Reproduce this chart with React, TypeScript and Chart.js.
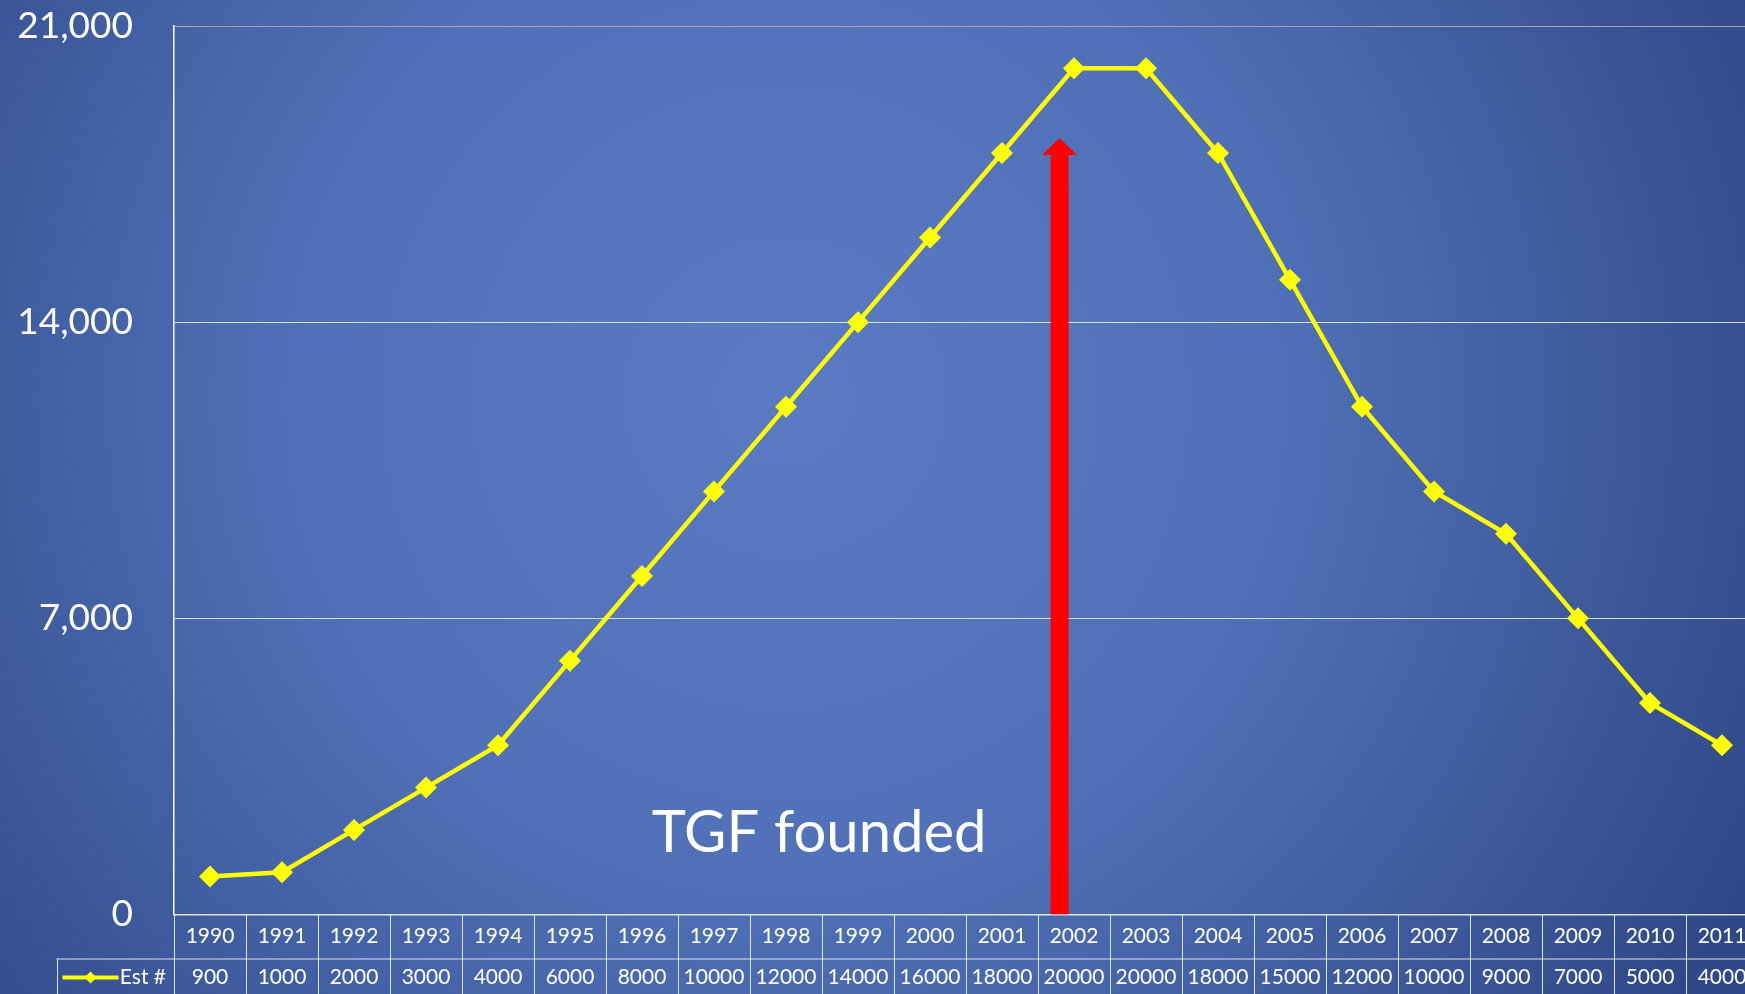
import React, { useEffect, useRef } from 'react';
import { Chart, registerables } from 'chart.js';

Chart.register(...registerables);

const years = ['1990', '1991', '1992', '1993', '1994', '1995', '1996', '1997', '1998', '1999', '2000', '2001', '2002', '2003', '2004', '2005', '2006', '2007', '2008', '2009', '2010', '2011'];
const estimates = [900, 1000, 2000, 3000, 4000, 6000, 8000, 10000, 12000, 14000, 16000, 18000, 20000, 20000, 18000, 15000, 12000, 10000, 9000, 7000, 5000, 4000];
const yTickValues = [0, 7000, 14000, 21000];
const seriesName = 'Est #';
const annotationText = 'TGF founded';
const arrowIndex = 11.8; // category position of the arrow (near 2002)
const arrowTopValue = 18350;
const textIndex = 8.46;
const textBaselineValue = 1480;

const FONT = 'Lato, "Open Sans", sans-serif';
const CANVAS_W = 1758;
const CANVAS_H = 994;
const PLOT_RIGHT = 1758; // the plot (and table) run past the right edge of the view

const backgroundPlugin = {
  id: 'bg',
  beforeDraw(chart: any) {
    const { ctx, height } = chart;
    const width = 1745;
    ctx.save();
    const g = ctx.createRadialGradient(width * 0.45, height * 0.4, 0, width * 0.45, height * 0.4, width * 0.62);
    g.addColorStop(0, '#5a7bc4');
    g.addColorStop(0.45, '#5071b8');
    g.addColorStop(1, '#2f4887');
    ctx.fillStyle = g;
    ctx.fillRect(0, 0, chart.width, height);
    ctx.restore();
  },
};

const arrowPlugin = {
  id: 'arrowNote',
  afterDatasetsDraw(chart: any) {
    const { ctx } = chart;
    const xs = chart.scales.x;
    const ys = chart.scales.y;
    const cx = xs.getPixelForValue(arrowIndex);
    const tip = ys.getPixelForValue(arrowTopValue);
    const base = ys.getPixelForValue(0);
    const shaftHalf = 9;
    const headHalf = 17.5;
    const headH = 17;
    ctx.save();
    ctx.fillStyle = '#ff0000';
    ctx.beginPath();
    ctx.moveTo(cx, tip);
    ctx.lineTo(cx + headHalf, tip + headH);
    ctx.lineTo(cx + shaftHalf, tip + headH);
    ctx.lineTo(cx + shaftHalf, base);
    ctx.lineTo(cx - shaftHalf, base);
    ctx.lineTo(cx - shaftHalf, tip + headH);
    ctx.lineTo(cx - headHalf, tip + headH);
    ctx.closePath();
    ctx.fill();

    ctx.fillStyle = '#ffffff';
    ctx.font = `58px ${FONT}`;
    ctx.textAlign = 'center';
    ctx.textBaseline = 'alphabetic';
    ctx.fillText(annotationText, xs.getPixelForValue(textIndex), ys.getPixelForValue(textBaselineValue));
    ctx.restore();
  },
};

const tablePlugin = {
  id: 'dataTable',
  afterDraw(chart: any) {
    const { ctx, chartArea, height } = chart;
    const xs = chart.scales.x;
    const n = years.length;
    const cellW = (chartArea.right - chartArea.left) / n;
    const top = chartArea.bottom;
    const row1H = 44;
    const mid = top + row1H;
    const row2Mid = mid + 19;
    const legendLeft = chartArea.left - 117.5;
    ctx.save();
    ctx.strokeStyle = 'rgba(235,240,250,0.9)';
    ctx.lineWidth = 1;
    ctx.beginPath();
    ctx.moveTo(chartArea.left, top + 0.5);
    ctx.lineTo(chartArea.right, top + 0.5);
    ctx.moveTo(legendLeft, mid + 0.5);
    ctx.lineTo(chartArea.right, mid + 0.5);
    for (let i = 0; i <= n; i++) {
      const x = Math.round(chartArea.left + i * cellW) + 0.5;
      ctx.moveTo(x, top);
      ctx.lineTo(x, height);
    }
    ctx.moveTo(Math.round(legendLeft) + 0.5, mid);
    ctx.lineTo(Math.round(legendLeft) + 0.5, height);
    ctx.stroke();

    ctx.fillStyle = '#ffffff';
    ctx.font = `21px ${FONT}`;
    ctx.textAlign = 'center';
    ctx.textBaseline = 'middle';
    for (let i = 0; i < n; i++) {
      const cx = xs.getPixelForValue(i);
      ctx.fillText(years[i], cx, top + 22);
      ctx.fillText(String(estimates[i]), cx, row2Mid);
    }

    const ly = row2Mid;
    ctx.strokeStyle = '#ffff00';
    ctx.lineWidth = 4;
    ctx.beginPath();
    ctx.moveTo(legendLeft + 6, ly);
    ctx.lineTo(legendLeft + 62, ly);
    ctx.stroke();
    ctx.fillStyle = '#ffff00';
    const dx = legendLeft + 34;
    ctx.beginPath();
    ctx.moveTo(dx - 6, ly);
    ctx.lineTo(dx, ly - 6);
    ctx.lineTo(dx + 6, ly);
    ctx.lineTo(dx, ly + 6);
    ctx.closePath();
    ctx.fill();
    ctx.fillStyle = '#ffffff';
    ctx.textAlign = 'right';
    ctx.fillText(seriesName, chartArea.left - 8, ly);
    ctx.restore();
  },
};

export default function App() {
  const canvasRef = useRef<HTMLCanvasElement | null>(null);

  useEffect(() => {
    const canvas = canvasRef.current;
    if (!canvas) return;
    const chart = new Chart(canvas, {
      type: 'line',
      data: {
        labels: years,
        datasets: [
          {
            label: seriesName,
            data: estimates,
            borderColor: '#ffff00',
            backgroundColor: '#ffff00',
            borderWidth: 4.5,
            tension: 0,
            pointStyle: 'rectRot',
            pointRadius: 11,
            pointBackgroundColor: '#ffff00',
            pointBorderColor: '#ffff00',
            pointBorderWidth: 0,
            clip: false as any,
          },
        ],
      },
      options: {
        animation: false,
        responsive: false,
        maintainAspectRatio: false,
        devicePixelRatio: 1,
        layout: { padding: { top: 26, bottom: 79.5, left: 0, right: 0 } },
        plugins: {
          legend: { display: false },
          tooltip: { enabled: false },
        },
        scales: {
          x: {
            type: 'category',
            display: false,
            offset: true,
            grid: { display: false },
          },
          y: {
            min: 0,
            max: 21000,
            afterFit(scale: any) {
              scale.width = 174;
              scale.paddingTop = 0;
              scale.paddingBottom = 0;
            },
            afterBuildTicks(scale: any) {
              scale.ticks = yTickValues.map((v) => ({ value: v }));
            },
            border: { display: true, color: '#ffffff', width: 1.5 },
            grid: {
              drawTicks: false,
              lineWidth: 1,
              color: (c: any) => (c.tick && c.tick.value === 21000 ? 'rgba(170,170,175,0.95)' : 'rgba(235,240,250,0.85)'),
            },
            ticks: {
              padding: 41,
              color: '#ffffff',
              font: { family: FONT, size: 37 },
              callback: (v: any) => Number(v).toLocaleString('en-US'),
            },
          },
        },
      },
      plugins: [backgroundPlugin, arrowPlugin, tablePlugin],
    });
    // the line's point overflow shrinks the plot on the right; widen the canvas so the plot ends at PLOT_RIGHT
    const delta = PLOT_RIGHT - chart.chartArea.right;
    if (Math.abs(delta) > 0.01) {
      chart.resize(CANVAS_W + delta, CANVAS_H);
      chart.update();
    }
    return () => chart.destroy();
  }, []);

  return (
    <div style={{ position: 'fixed', left: 0, top: 0, width: '100vw', height: '100vh', overflow: 'hidden', background: '#30498a' }}>
      <div style={{ position: 'absolute', left: 0, top: 0, width: 2000, height: CANVAS_H }}>
        <canvas ref={canvasRef} width={CANVAS_W} height={CANVAS_H} style={{ display: 'block', width: CANVAS_W, height: CANVAS_H }} />
      </div>
    </div>
  );
}
